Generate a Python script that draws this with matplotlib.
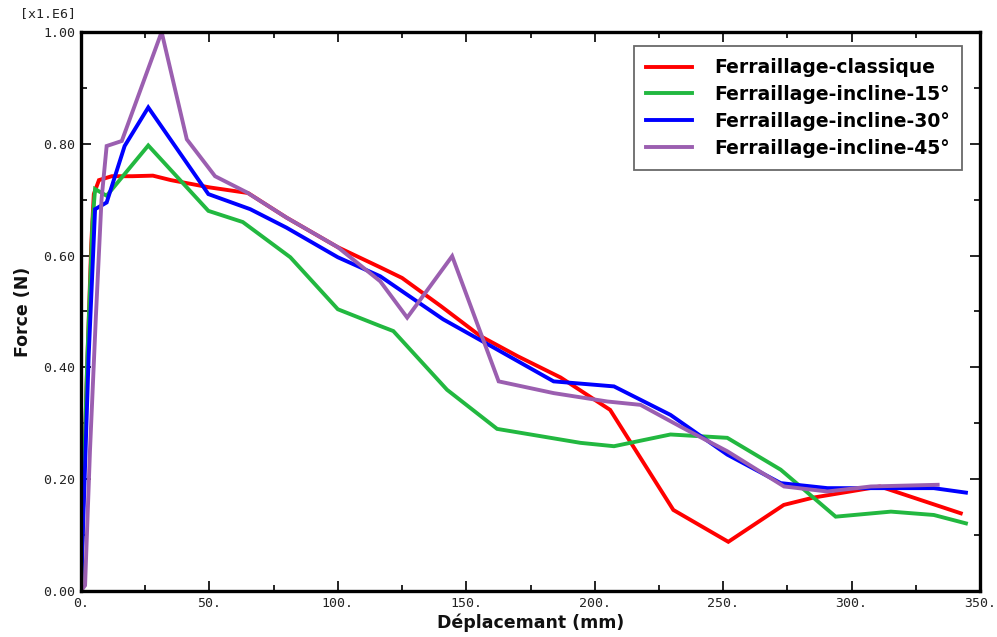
import matplotlib
matplotlib.use("Agg")
import matplotlib.pyplot as plt
from matplotlib.ticker import MultipleLocator, FuncFormatter

# Force-displacement curves (force in units of 1e6 N)
x_classique = [0, 0.7, 2.2, 4.0, 5.0, 7, 12, 20, 28, 35, 50, 65, 80, 100, 116.5, 125, 140, 155.5, 170, 186.7, 206, 230.6, 252, 273.6, 285, 311, 342.5]
f_classique = [0, 0.13, 0.37, 0.62, 0.71, 0.735, 0.742, 0.742, 0.743, 0.735, 0.722, 0.712, 0.668, 0.615, 0.579, 0.56, 0.51, 0.456, 0.42, 0.382, 0.324, 0.145, 0.088, 0.154, 0.167, 0.187, 0.139]

x_inc15 = [0, 0.8, 2.5, 4.5, 5.5, 10, 26.2, 49.6, 63, 81.5, 100, 116.5, 121.6, 142.5, 162, 194.5, 207.5, 229.5, 251.6, 272.4, 293.8, 315.3, 332, 344.5]
f_inc15 = [0, 0.15, 0.42, 0.66, 0.719, 0.707, 0.797, 0.68, 0.66, 0.597, 0.504, 0.474, 0.465, 0.36, 0.29, 0.265, 0.259, 0.28, 0.274, 0.217, 0.133, 0.142, 0.136, 0.121]

x_inc30 = [0, 1.0, 3.0, 5.5, 10, 17, 26.2, 49.6, 65.9, 80, 100, 116.5, 141, 162, 184, 207.5, 229.5, 251.6, 272.4, 290.6, 311, 332, 344.5]
f_inc30 = [0, 0.14, 0.42, 0.683, 0.695, 0.796, 0.865, 0.71, 0.683, 0.65, 0.597, 0.563, 0.486, 0.432, 0.375, 0.366, 0.315, 0.244, 0.193, 0.184, 0.184, 0.184, 0.176]

x_inc45 = [0, 1.6, 3.5, 5.8, 8, 10, 15.9, 31.4, 41.2, 52.2, 64.6, 80, 100, 116.5, 127, 144.5, 162.6, 184, 204.9, 217.8, 233.4, 251.6, 273.7, 290.6, 307.5, 333.5]
f_inc45 = [0, 0.01, 0.25, 0.49, 0.70, 0.796, 0.805, 1.0, 0.808, 0.742, 0.713, 0.668, 0.615, 0.554, 0.489, 0.599, 0.375, 0.354, 0.339, 0.333, 0.294, 0.25, 0.187, 0.178, 0.187, 0.19]

series = [
    ("Ferraillage-classique", x_classique, f_classique, "#ff0000"),
    ("Ferraillage-incline-15°", x_inc15, f_inc15, "#22b840"),
    ("Ferraillage-incline-30°", x_inc30, f_inc30, "#0000ff"),
    ("Ferraillage-incline-45°", x_inc45, f_inc45, "#9b5fb0"),
]

fig = plt.figure(figsize=(9.97, 6.37), dpi=100)
ax = fig.add_axes([0.0812, 0.0722, 0.9018, 0.8776])

for label, xs, ys, color in series:
    ax.plot(xs, ys, color=color, lw=2.8, label=label, solid_joinstyle="miter")

ax.set_xlim(0, 350)
ax.set_ylim(0, 1.0)
ax.xaxis.set_major_locator(MultipleLocator(50))
ax.xaxis.set_minor_locator(MultipleLocator(25))
ax.yaxis.set_major_locator(MultipleLocator(0.2))
ax.yaxis.set_minor_locator(MultipleLocator(0.1))
ax.xaxis.set_major_formatter(FuncFormatter(lambda v, p: f"{v:.0f}."))
ax.yaxis.set_major_formatter(FuncFormatter(lambda v, p: f"{v:.2f}"))

ax.tick_params(which="both", direction="in", top=True, right=True,
               color="black", width=1.2, labelsize=9.5, labelcolor="#222222")
ax.tick_params(which="major", length=7, pad=4)
ax.tick_params(which="minor", length=4)
for lbl in ax.get_xticklabels() + ax.get_yticklabels():
    lbl.set_family("DejaVu Sans Mono")
for s in ax.spines.values():
    s.set_linewidth(2.4)
    s.set_color("black")

ax.set_xlabel("Déplacemant (mm)", fontsize=12.5, fontweight="bold", labelpad=3, color="#111111")
ax.set_ylabel("Force (N)", fontsize=12.5, fontweight="bold", labelpad=8, color="#111111")
fig.text(0.020, 0.978, "[x1.E6]", fontsize=9.5, family="DejaVu Sans Mono",
         color="#222222", va="center", ha="left")

leg = ax.legend(loc="upper right", bbox_to_anchor=(0.98, 0.975),
                prop={"weight": "bold", "size": 13.5}, frameon=True, fancybox=False,
                edgecolor="#444444", handlelength=2.45, handletextpad=1.2,
                borderpad=0.65, labelspacing=0.42, borderaxespad=0)
leg.get_frame().set_linewidth(1.3)

fig.savefig("out.png", dpi=100)
